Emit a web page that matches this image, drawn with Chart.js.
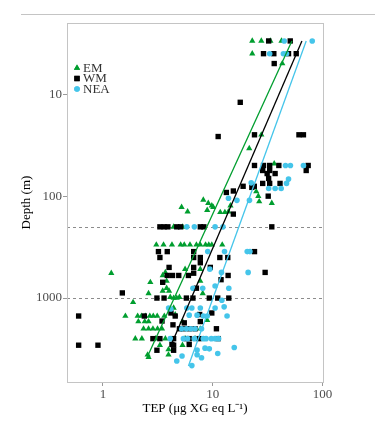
<!DOCTYPE html>
<html>
<head>
<meta charset="utf-8">
<script src="https://cdn.jsdelivr.net/npm/chart.js@4.4.1/dist/chart.umd.min.js"></script>
<style>
  html, body { margin: 0; padding: 0; background: #fff; }
  #wrap { position: relative; width: 375px; height: 427px; }
  #rule { position: absolute; top: 14px; left: 21px; right: 0; border-top: 1px solid #c4c4c4; }
  canvas { position: absolute; left: 0; top: 0; }
</style>
</head>
<body>
<div id="wrap">
  <div id="rule"></div>
  <canvas id="tepChart" width="375" height="427"></canvas>
</div>
<script>
// [TEP (µg XG eq/L), depth (m)]
const emData = [
  [22.9, 3], [27.7, 3], [33.5, 3], [42.3, 3], [22.9, 4], [43, 5], [27.7, 25], [21.5, 34], [36.3, 48],
  [24.9, 90], [26, 100], [26.5, 113], [34.5, 117], [8.2, 109], [9.1, 117], [10.1, 128], [8.9, 137],
  [11.7, 144], [12.9, 144], [14.5, 124], [13.9, 142], [9.8, 124], [5.2, 128], [5.9, 142],
  [4.4, 200], [5.3, 200],
  [3.06, 300], [3.56, 300], [4.25, 300], [5.1, 300], [5.5, 300], [6.2, 300], [7.1, 300], [7.7, 300],
  [8.6, 300], [9.2, 300], [9.8, 300], [12.2, 300],
  [1.19, 570], [3.7, 560], [5.6, 520], [7.7, 520], [3.5, 600], [2.7, 700], [3.8, 680], [7.7, 680],
  [3.8, 800], [8.1, 900], [2.6, 900], [3.5, 850], [4.0, 850], [4.1, 980], [4.97, 980], [4.4, 1000],
  [4.7, 1000], [1.88, 1100], [1.6, 1500], [4.4, 1250],
  [2.07, 1500], [2.24, 1500], [2.43, 1500], [2.67, 1500], [2.87, 1500], [3.12, 1500], [3.62, 1500], [4.55, 1450],
  [2.1, 1700], [2.4, 1700], [2.6, 1700], [5.3, 1700], [8.9, 1650],
  [2.34, 2000], [2.6, 2000], [2.85, 2000], [3.14, 2000], [3.45, 2000], [7.7, 2000],
  [1.97, 2500], [2.26, 2500], [3.0, 2500], [3.7, 2500], [5.6, 2500], [6.9, 2500],
  [3.3, 2900], [5.3, 2900], [3.95, 3200], [2.55, 3600], [3.95, 3600], [2.6, 3800],
];

const wmData = [
  [32.3, 3], [50.8, 3], [29, 4], [36, 4], [49, 4], [57.6, 4], [36.3, 5], [17.8, 12],
  [11.2, 26], [24, 25], [61, 25], [67, 25],
  [24, 50], [29, 50], [33, 50], [40, 50], [74, 50], [71, 56], [28.5, 56], [33, 56], [31.3, 60], [37, 60],
  [32.3, 67], [28.5, 75], [33, 75], [41, 75], [23.9, 80], [18.9, 80], [15.4, 89], [13.3, 92], [22.7, 82],
  [32, 100], [15.4, 150],
  [3.3, 200], [3.6, 200], [3.9, 200], [4.7, 200], [5.1, 200], [7.7, 200], [8.3, 200], [34.5, 200],
  [3.2, 350], [3.85, 350], [6.7, 350], [24, 350],
  [3.3, 400], [6.7, 400], [7.7, 400], [11.6, 400], [13.7, 400],
  [7.7, 450], [9.5, 500], [4.0, 500], [6.7, 500], [6.7, 570], [30, 560],
  [3.85, 600], [4.3, 600], [4.9, 600], [6.0, 600], [13.8, 600], [11.9, 660], [3.5, 700], [7.1, 800], [1.5, 890],
  [3.1, 1000], [3.6, 1000], [5.75, 1000], [6.6, 1000], [9.3, 1000], [11.1, 1000], [14, 1000],
  [0.6, 1500], [0.6, 2900], [0.9, 2900],
  [2.38, 1500], [4.16, 1400], [4.55, 1500], [4.34, 1830], [5.5, 1750], [7.7, 1700], [9.8, 1400], [7.6, 1450], [3.45, 1680],
  [4.97, 2000], [5.4, 2000], [6.1, 2000], [6.9, 2000], [10.8, 2000],
  [2.85, 2500], [3.3, 2500], [4.4, 2500], [5.75, 2500], [6.1, 2500], [7.5, 2500], [11.2, 2500],
  [3.1, 3250], [4.25, 2850], [4.4, 2900], [6.1, 2850], [4.4, 3250],
];

const neaData = [
  [44.8, 3], [80.6, 3], [33, 4], [44, 4], [47, 4], [46, 50], [51, 50], [67, 50], [49, 68], [47, 75],
  [22.4, 74], [32.3, 84], [37, 84], [42, 84], [13.9, 105], [16.6, 110], [21.6, 110],
  [5.8, 200], [6.8, 200], [10.5, 200], [12.4, 200],
  [9.0, 350], [12.8, 350], [20.6, 350], [21.8, 350],
  [9.4, 520], [12, 560], [21, 560],
  [6.6, 800], [8.1, 800], [10.5, 760], [14, 800],
  [12.1, 1050], [12.7, 1220], [10.5, 1250], [7.7, 1250], [3.96, 1250], [4.15, 1280], [5.8, 1250], [6.45, 1250],
  [6.1, 1470], [7.2, 1470], [8.2, 1500], [8.9, 1500], [13.5, 1500],
  [5.2, 2000], [5.75, 2000], [6.3, 2000], [6.9, 2000], [7.9, 2000],
  [4.1, 2500], [5.4, 2500], [5.9, 2500], [6.8, 2500], [8.2, 2500], [8.7, 2500], [9.7, 2500], [10.5, 2500], [11.3, 2500],
  [8.5, 3100], [9.3, 3150], [7.2, 3240], [15.7, 3050], [11.1, 3500], [7.2, 3600], [5.25, 3700], [7.9, 3850],
  [4.7, 4150], [6.45, 4600],
];

// fitted lines (log-log), end points in data units
const emFit = [[52.6, 3], [2.53, 3790]];
const wmFit = [[64.9, 3], [4.1, 3020]];
const neaFit = [[71, 3], [6.0, 4640]];

const xTicks = [1, 10, 100];
const yTicks = [10, 100, 1000];
const dashedDepths = [200, 1000];

const COLORS = { EM: '#009e2f', WM: '#000000', NEA: '#45c5ea' };
const FONT = "'Liberation Serif', 'Times New Roman', serif";

const toPts = (arr) => arr.map(([x, y]) => ({ x, y }));

const legendItems = [
  { label: 'EM', color: COLORS.EM, style: 'triangle', radius: 3.6 },
  { label: 'WM', color: COLORS.WM, style: 'rect', radius: 3.8 },
  { label: 'NEA', color: COLORS.NEA, style: 'circle', radius: 2.8 },
];

function pointSet(label, data, style, radius, order) {
  const color = COLORS[label];
  return {
    label,
    data: toPts(data),
    pointStyle: style,
    pointRadius: radius,
    backgroundColor: color,
    borderColor: color,
    borderWidth: 0,
    showLine: false,
    order,
  };
}

function fitSet(label, data) {
  return {
    label: label + ' fit',
    data: toPts(data),
    showLine: true,
    pointRadius: 0,
    borderColor: COLORS[label],
    borderWidth: 1.3,
    fill: false,
    order: 0,
  };
}

const framePlugin = {
  id: 'frame',
  beforeDatasetsDraw(chart) {
    const { ctx, chartArea: a, scales } = chart;
    ctx.save();
    ctx.strokeStyle = '#8c8c8c';
    ctx.lineWidth = 1;
    ctx.setLineDash([3, 3]);
    dashedDepths.forEach((d) => {
      const y = Math.round(scales.y.getPixelForValue(d)) + 0.5;
      ctx.beginPath();
      ctx.moveTo(a.left, y);
      ctx.lineTo(a.right, y);
      ctx.stroke();
    });
    ctx.restore();
  },
  afterDraw(chart) {
    const { ctx, chartArea: a } = chart;
    ctx.save();
    ctx.strokeStyle = '#c4c4c4';
    ctx.lineWidth = 1;
    ctx.strokeRect(Math.round(a.left) + 0.5, Math.round(a.top) + 0.5,
      Math.round(a.right - a.left), Math.round(a.bottom - a.top));

    // legend, top-left inside the panel
    ctx.font = '13px ' + FONT;
    ctx.textBaseline = 'middle';
    legendItems.forEach((it, i) => {
      const x = a.left + 10;
      const y = a.top + 45 + i * 10.5;
      ctx.fillStyle = it.color;
      ctx.strokeStyle = it.color;
      Chart.helpers.drawPoint(ctx, { pointStyle: it.style, radius: it.radius, borderWidth: 0 }, x, y);
      ctx.fill();
      ctx.fillStyle = '#333';
      ctx.fillText(it.label, x + 6, y + 0.5);
    });
    ctx.restore();
  },
};

new Chart(document.getElementById('tepChart'), {
  type: 'scatter',
  data: {
    datasets: [
      fitSet('EM', emFit),
      fitSet('WM', wmFit),
      fitSet('NEA', neaFit),
      pointSet('NEA', neaData, 'circle', 2.8, 1),
      pointSet('WM', wmData, 'rect', 3.8, 2),
      pointSet('EM', emData, 'triangle', 3.6, 3),
    ],
  },
  options: {
    responsive: false,
    animation: false,
    layout: { padding: { top: 23, right: 52, left: 0, bottom: 0 } },
    plugins: { legend: { display: false }, tooltip: { enabled: false } },
    scales: {
      x: {
        type: 'logarithmic',
        min: 0.47,
        max: 101,
        afterBuildTicks: (s) => { s.ticks = xTicks.map((v) => ({ value: v })); },
        afterFit: (s) => { s.height = 45; },
        grid: { drawOnChartArea: false, drawTicks: true, tickLength: 4, color: '#999' },
        border: { display: false },
        ticks: {
          autoSkip: false,
          maxRotation: 0,
          padding: 1,
          color: '#4d4d4d',
          font: { family: FONT, size: 13 },
          callback: (v) => String(v),
        },
        title: {
          display: true,
          text: 'TEP (μg XG eq L⁻¹)',
          color: '#000',
          font: { family: FONT, size: 13 },
          padding: { top: 0, bottom: 11 },
        },
      },
      y: {
        type: 'logarithmic',
        reverse: true,
        min: 2,
        max: 6660,
        afterBuildTicks: (s) => { s.ticks = yTicks.map((v) => ({ value: v })); },
        afterFit: (s) => { s.width = 67; },
        grid: { drawOnChartArea: false, drawTicks: true, tickLength: 4, color: '#999' },
        border: { display: false },
        ticks: {
          autoSkip: false,
          padding: 1,
          color: '#4d4d4d',
          font: { family: FONT, size: 13 },
          callback: (v) => String(v),
        },
        title: {
          display: true,
          text: 'Depth (m)',
          color: '#000',
          font: { family: FONT, size: 13 },
          padding: { top: 19, bottom: 0 },
        },
      },
    },
  },
  plugins: [framePlugin],
});
</script>
</body>
</html>
